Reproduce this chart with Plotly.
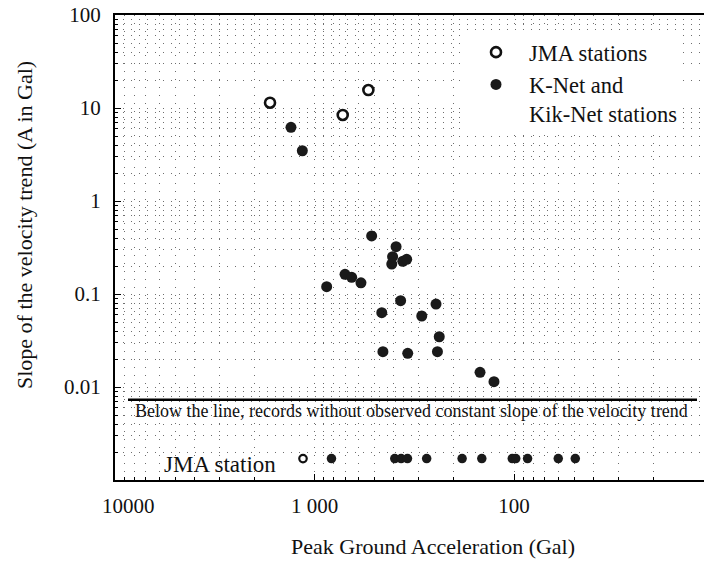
import plotly.graph_objects as go

# ---------------- data ----------------
jma_pga = [1671, 722, 537]
jma_slope = [11.4, 8.41, 15.6]

knet_pga = [1312, 1151, 869, 703, 651, 585, 517, 460, 454, 410, 406, 390,
            370, 361, 345, 341, 290, 246, 242, 237, 148, 126]
knet_slope = [6.20, 3.47, 0.120, 0.163, 0.151, 0.132, 0.421, 0.063, 0.024,
              0.210, 0.252, 0.323, 0.0847, 0.225, 0.236, 0.023, 0.058, 0.078,
              0.024, 0.0347, 0.0144, 0.0114]

# records without observed constant slope (plotted in the band below the line)
jma_below_pga = [1142]
knet_below_pga = [822, 396, 368, 342, 274, 182, 145, 102, 98, 85.5, 60, 49.3]
below_band_slope = 0.0017
threshold_slope = 0.0073

x_tickvals = [10000, 1000, 100, 10]
x_ticktext = ["\u00a0\u00a0\u00a0\u00a0\u00a010000", "1 000", "100", "10"]
y_tickvals = [100, 10, 1, 0.1, 0.01]
y_ticktext = ["100", "10", "1", "0.1", "0.01"]

# ---------------- layout geometry ----------------
FONT = "Times New Roman"
W, H = 704, 562
L, R, T, B = 115, 0, 15, 82
PW, PH = W - L - R, H - T - B
DECADE_PX = 199.5
x_range = [4, 4 - PW / DECADE_PX]
y_range = [-3, 2]


def px_to_paper_x(px):
    return (px - L) / PW


def px_to_paper_y(py):
    return (H - B - py) / PH


GRID = dict(gridcolor="#6e6e6e", gridwidth=1, griddash="1px,7px")

fig = go.Figure()

fig.add_trace(go.Scatter(
    x=jma_pga, y=jma_slope, mode="markers", name="JMA stations",
    marker=dict(symbol="circle", size=10, color="white",
                line=dict(color="#111", width=2.6)),
))
fig.add_trace(go.Scatter(
    x=knet_pga, y=knet_slope, mode="markers", name="K-Net and<br>Kik-Net stations",
    marker=dict(symbol="circle", size=11, color="#1a1a1a", line=dict(width=0)),
))
fig.add_trace(go.Scatter(
    x=jma_below_pga, y=[below_band_slope] * len(jma_below_pga), mode="markers",
    showlegend=False,
    marker=dict(symbol="circle", size=7.5, color="white",
                line=dict(color="#111", width=2.2)),
))
fig.add_trace(go.Scatter(
    x=knet_below_pga, y=[below_band_slope] * len(knet_below_pga), mode="markers",
    showlegend=False,
    marker=dict(symbol="circle", size=9.5, color="#1a1a1a", line=dict(width=0)),
))

fig.add_shape(type="line", xref="paper", yref="y",
              x0=px_to_paper_x(128), x1=px_to_paper_x(697),
              y0=threshold_slope, y1=threshold_slope,
              line=dict(color="black", width=2.5))

annotations = [
    dict(text="Below the line, records without observed constant slope of the velocity trend",
         x=px_to_paper_x(411), y=px_to_paper_y(411), font=dict(size=18)),
    dict(text="JMA station", x=px_to_paper_x(220), y=px_to_paper_y(464),
         font=dict(size=23)),
    dict(text="Peak Ground Acceleration (Gal)", x=px_to_paper_x(433),
         y=px_to_paper_y(546), font=dict(size=22)),
    dict(text="Slope of the velocity trend (A in Gal)", x=px_to_paper_x(24),
         y=px_to_paper_y(225), font=dict(size=22), textangle=-90),
    # tick label of the last decade, partly outside the picture
    dict(text=x_ticktext[-1], x=px_to_paper_x(L + 3 * DECADE_PX),
         y=px_to_paper_y(504), font=dict(size=21)),
]
for a in annotations:
    a.update(xref="paper", yref="paper", showarrow=False,
             xanchor="center", yanchor="middle")
    a["font"].update(family=FONT, color="#111")

fig.update_layout(
    width=W, height=H,
    margin=dict(l=L, r=R, t=T, b=B, pad=0),
    paper_bgcolor="white", plot_bgcolor="white",
    font=dict(family=FONT, size=21, color="#111"),
    showlegend=True,
    legend=dict(x=px_to_paper_x(463), y=px_to_paper_y(31), xanchor="left",
                yanchor="top", bgcolor="white", borderwidth=0,
                font=dict(family=FONT, size=22.5, color="#111"),
                itemwidth=56, valign="top", tracegroupgap=0),
    annotations=annotations,
    xaxis=dict(type="log", range=x_range, tickmode="array",
               tickvals=x_tickvals, ticktext=x_ticktext,
               ticks="inside", ticklen=6, tickwidth=1, tickcolor="black",
               showline=True, linecolor="black", linewidth=2, mirror=True,
               showgrid=True, **GRID, zeroline=False,
               tickfont=dict(family=FONT, size=21), ticklabelstandoff=6,
               minor=dict(ticks="inside", ticklen=3, tickcolor="black",
                          dtick="D1", showgrid=True, **GRID)),
    yaxis=dict(type="log", range=y_range, tickmode="array",
               tickvals=y_tickvals, ticktext=y_ticktext,
               ticks="inside", ticklen=6, tickwidth=1, tickcolor="black",
               showline=True, linecolor="black", linewidth=2, mirror=False,
               showgrid=True, **GRID, zeroline=False,
               tickfont=dict(family=FONT, size=21), ticklabelstandoff=8,
               minor=dict(ticks="inside", ticklen=3, tickcolor="black",
                          dtick="D1", showgrid=True, **GRID)),
)

fig.write_html("out.html")
